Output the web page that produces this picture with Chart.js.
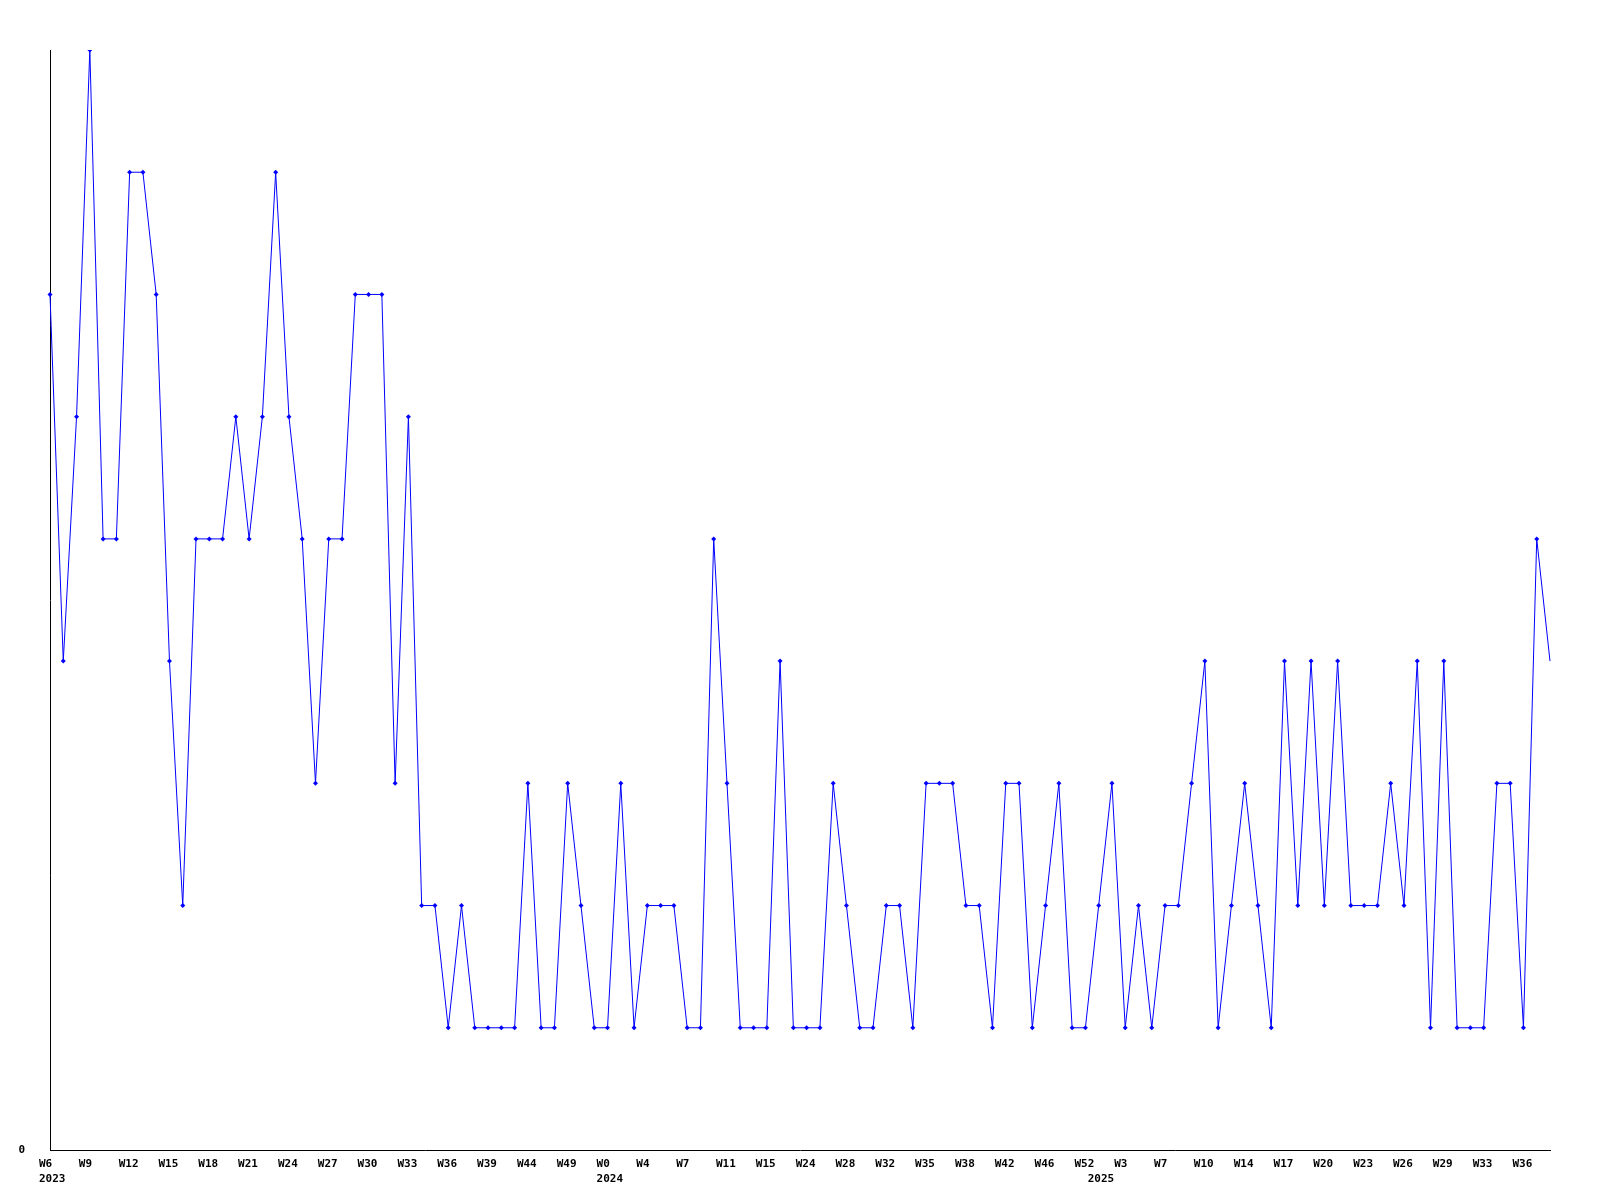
<!DOCTYPE html>
<html>
<head>
<meta charset="utf-8">
<script src="https://cdn.jsdelivr.net/npm/chart.js@4"></script>
<style>
    html, body { margin: 0; padding: 0; background: #fff; }
    #wrap { width: 1600px; height: 1200px; }
</style>
</head>
<body>
<div id="wrap"><canvas id="chart" width="1600" height="1200"></canvas></div>
<script>
const weeks = [
    'W6', 'W7', 'W8', 'W9', 'W10', 'W11', 'W12', 'W13', 'W14', 'W15',
    'W16', 'W17', 'W18', 'W19', 'W20', 'W21', 'W22', 'W23', 'W24', 'W25',
    'W26', 'W27', 'W28', 'W29', 'W30', 'W31', 'W32', 'W33', 'W34', 'W35',
    'W36', 'W37', 'W38', 'W39', 'W41', 'W42', 'W44', 'W45', 'W47', 'W49',
    'W50', 'W52', 'W0', 'W2', 'W3', 'W4', 'W5', 'W6', 'W7', 'W8',
    'W10', 'W11', 'W12', 'W14', 'W15', 'W17', 'W20', 'W24', 'W25', 'W27',
    'W28', 'W29', 'W31', 'W32', 'W33', 'W34', 'W35', 'W36', 'W37', 'W38',
    'W39', 'W41', 'W42', 'W43', 'W45', 'W46', 'W48', 'W50', 'W52', 'W1',
    'W2', 'W3', 'W4', 'W6', 'W7', 'W8', 'W9', 'W10', 'W11', 'W13',
    'W14', 'W15', 'W16', 'W17', 'W18', 'W19', 'W20', 'W21', 'W22', 'W23',
    'W24', 'W25', 'W26', 'W27', 'W28', 'W29', 'W30', 'W32', 'W33', 'W34',
    'W35', 'W36', 'W37', 'W38'
];
// first point of each year gets the year on a second line
const yearStarts = { 0: '2023', 42: '2024', 79: '2025' };

const counts = [
    7, 4, 6, 9, 5, 5, 8, 8, 7, 4,
    2, 5, 5, 5, 6, 5, 6, 8, 6, 5,
    3, 5, 5, 7, 7, 7, 3, 6, 2, 2,
    1, 2, 1, 1, 1, 1, 3, 1, 1, 3,
    2, 1, 1, 3, 1, 2, 2, 2, 1, 1,
    5, 3, 1, 1, 1, 4, 1, 1, 1, 3,
    2, 1, 1, 2, 2, 1, 3, 3, 3, 2,
    2, 1, 3, 3, 1, 2, 3, 1, 1, 2,
    3, 1, 2, 1, 2, 2, 3, 4, 1, 2,
    3, 2, 1, 4, 2, 4, 2, 4, 2, 2,
    2, 3, 2, 4, 1, 4, 1, 1, 1, 3,
    3, 1, 5, 4
];

const monoFont = { family: "'DejaVu Sans Mono', monospace", size: 11, weight: 'bold', lineHeight: 1.4 };

const ctx = document.getElementById('chart').getContext('2d');
new Chart(ctx, {
    type: 'line',
    data: {
        labels: weeks,
        datasets: [{
            data: counts,
            borderColor: '#0000ff',
            backgroundColor: '#0000ff',
            borderWidth: 1,
            tension: 0,
            pointStyle: 'rectRot',
            // the last point sits on the right edge and has no marker
            pointRadius: c => c.dataIndex === counts.length - 1 ? 0 : 2.5,
            pointBorderWidth: 0,
            pointBackgroundColor: '#0000ff'
        }]
    },
    options: {
        responsive: false,
        animation: false,
        layout: { padding: { top: 50, right: 50, left: 0, bottom: 0 } },
        plugins: {
            legend: { display: false },
            tooltip: { enabled: false }
        },
        scales: {
            x: {
                offset: false,
                grid: { display: false, drawTicks: false },
                border: { display: true, color: '#000', width: 1 },
                afterFit: scale => { scale.height = 50; },
                ticks: {
                    autoSkip: false,
                    maxRotation: 0,
                    minRotation: 0,
                    align: 'start',
                    labelOffset: -11,
                    padding: 6,
                    color: '#000',
                    font: monoFont,
                    callback: function(value, index) {
                        const w = index % 3 === 0 ? this.getLabelForValue(value) : '';
                        return yearStarts[index] ? [w, yearStarts[index]] : w;
                    }
                }
            },
            y: {
                min: 0,
                max: 9,
                grid: { display: false, drawTicks: false },
                border: { display: true, color: '#000', width: 1 },
                afterFit: scale => { scale.width = 50; },
                ticks: {
                    stepSize: 9,
                    padding: 25,
                    color: '#000',
                    font: monoFont,
                    callback: value => value === 0 ? '0' : ''
                }
            }
        }
    }
});
</script>
</body>
</html>
